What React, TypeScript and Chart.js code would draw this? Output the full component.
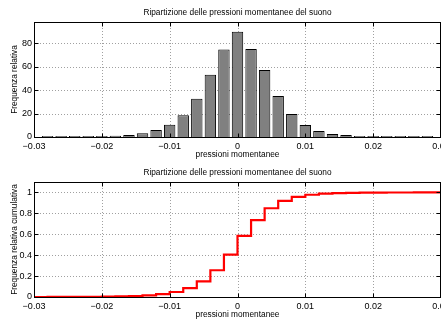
import React, { useEffect, useRef } from "react";
import { Chart, registerables } from "chart.js";

Chart.register(...registerables);

// ---- data ----
const binCenters = [
  -0.028, -0.026, -0.024, -0.022, -0.02, -0.018, -0.016, -0.014, -0.012, -0.01,
  -0.008, -0.006, -0.004, -0.002, 0, 0.002, 0.004, 0.006, 0.008, 0.01,
  0.012, 0.014, 0.016, 0.018, 0.02, 0.022, 0.024, 0.026, 0.028,
];
const relFreq = [
  0.2, 0.2, 0.3, 0.4, 0.6, 1.0, 1.7, 3.2, 6, 10.5,
  18.5, 32.5, 53, 74.6, 89.7, 75, 57, 35, 19.6, 10.2,
  5.1, 2.6, 1.6, 0.9, 0.4, 0.2, 0.2, 0.1, 0.1,
];
const cumX = [
  -0.03, -0.028, -0.026, -0.024, -0.022, -0.02, -0.018, -0.016, -0.014, -0.012, -0.01,
  -0.008, -0.006, -0.004, -0.002, 0, 0.002, 0.004, 0.006, 0.008, 0.01,
  0.012, 0.014, 0.016, 0.018, 0.02, 0.022, 0.024, 0.026, 0.028, 0.03,
];
const cumFreq = [
  0, 0.0004, 0.0008, 0.0014, 0.0022, 0.0034, 0.0054, 0.0088, 0.015, 0.027, 0.048,
  0.085, 0.15, 0.256, 0.405, 0.585, 0.735, 0.849, 0.919, 0.958, 0.978,
  0.988, 0.993, 0.996, 0.998, 0.999, 0.9994, 0.9998, 1.0, 1.0, 1.0,
];
const titleText = "Ripartizione delle pressioni momentanee del suono";
const xLabel = "pressioni momentanee";
const yLabelTop = "Frequenza relativa";
const yLabelBottom = "Frequenza relativa cumulativa";

const FONT = '"Liberation Sans", Arial, Helvetica, sans-serif';

const fmt = (v: number) => {
  const n = Number(Number(v).toFixed(3));
  const s = String(Math.abs(n));
  return n < 0 ? "\u2212" + s : s;
};

const framePlugin = {
  id: "frame",
  beforeDatasetsDraw(chart: any) {
    const { ctx, chartArea: a, scales } = chart;
    ctx.save();
    ctx.strokeStyle = "#a0a0a0";
    ctx.lineWidth = 1;
    ctx.setLineDash([1, 2]);
    scales.x.ticks.forEach((t: any) => {
      const px = Math.round(scales.x.getPixelForValue(t.value)) + 0.5;
      ctx.beginPath();
      ctx.moveTo(px, a.top);
      ctx.lineTo(px, a.bottom);
      ctx.stroke();
    });
    scales.y.ticks.forEach((t: any) => {
      const py = Math.round(scales.y.getPixelForValue(t.value)) + 0.5;
      ctx.beginPath();
      ctx.moveTo(a.left, py);
      ctx.lineTo(a.right, py);
      ctx.stroke();
    });
    ctx.restore();
  },
  afterDraw(chart: any, _args: any, opts: any) {
    const { ctx, chartArea: a, scales } = chart;
    ctx.save();
    ctx.fillStyle = "#000";
    ctx.font = `8.3px ${FONT}`;
    ctx.textAlign = "center";
    ctx.textBaseline = "middle";
    ctx.fillText(opts.title, (a.left + a.right) / 2, opts.titleY);
    ctx.strokeStyle = "#000";
    ctx.lineWidth = 1;
    const L = Math.round(a.left) + 0.5;
    const R = Math.round(a.right) - 0.5;
    const T = Math.round(a.top) + 0.5;
    const B = Math.round(a.bottom) + 0.5;
    ctx.strokeRect(L, T, R - L, B - T);
    const tl = 4;
    ctx.beginPath();
    scales.x.ticks.forEach((t: any) => {
      const px = Math.round(scales.x.getPixelForValue(t.value)) + 0.5;
      ctx.moveTo(px, B);
      ctx.lineTo(px, B - tl);
      ctx.moveTo(px, T);
      ctx.lineTo(px, T + tl);
    });
    scales.y.ticks.forEach((t: any) => {
      const py = Math.round(scales.y.getPixelForValue(t.value)) + 0.5;
      ctx.moveTo(L, py);
      ctx.lineTo(L + tl, py);
      ctx.moveTo(R, py);
      ctx.lineTo(R - tl, py);
    });
    ctx.stroke();
    ctx.restore();
  },
};

function baseOptions(yMax: number, yStep: number, yTitle: string) {
  return {
    responsive: false,
    animation: false as const,
    devicePixelRatio: 1,
    layout: { padding: { top: 22, right: 0, left: 0, bottom: 0 } },
    plugins: {
      legend: { display: false },
      tooltip: { enabled: false },
      title: { display: false },
      frame: { title: titleText, titleY: 12.5 },
    },
    scales: {
      x: {
        type: "linear" as const,
        min: -0.03,
        max: 0.03,
        offset: false,
        grid: { display: false, drawTicks: false },
        border: { display: false },
        ticks: {
          stepSize: 0.01,
          padding: 4,
          color: "#000",
          font: { family: FONT, size: 9 },
          maxRotation: 0,
          callback: (v: any) => fmt(v),
        },
        title: {
          display: true,
          text: xLabel,
          color: "#000",
          font: { family: FONT, size: 8.3 },
          padding: { top: 0, bottom: 0.5 },
        },
        afterFit: (s: any) => {
          s.height = 23;
          s.paddingLeft = 0;
          s.paddingRight = 0;
        },
      },
      y: {
        type: "linear" as const,
        min: 0,
        max: yMax,
        grid: { display: false, drawTicks: false },
        border: { display: false },
        ticks: {
          stepSize: yStep,
          includeBounds: false,
          padding: 2,
          color: "#000",
          font: { family: FONT, size: 9 },
          callback: (v: any) => fmt(v),
        },
        title: {
          display: true,
          text: yTitle,
          color: "#000",
          font: { family: FONT, size: 8.3 },
          padding: { top: 10, bottom: 0 },
        },
        afterFit: (s: any) => {
          s.width = 34;
          s.paddingTop = 0;
          s.paddingBottom = 0;
        },
      },
    },
  };
}

export default function App() {
  const topRef = useRef<HTMLCanvasElement>(null);
  const botRef = useRef<HTMLCanvasElement>(null);

  useEffect(() => {
    const c1 = new Chart(topRef.current as HTMLCanvasElement, {
      type: "bar",
      data: {
        datasets: [
          {
            data: binCenters.map((x, i) => ({ x, y: relFreq[i] })),
            backgroundColor: "#808080",
            borderColor: "#000",
            borderWidth: 1,
            minBarLength: 1,
            barPercentage: 0.84,
            categoryPercentage: 1,
          },
        ],
      },
      options: baseOptions(98, 20, yLabelTop) as any,
      plugins: [framePlugin],
    });
    const c2 = new Chart(botRef.current as HTMLCanvasElement, {
      type: "line",
      data: {
        datasets: [
          {
            data: cumX.map((x, i) => ({ x, y: cumFreq[i] })),
            borderColor: "#ff0000",
            borderWidth: 2.2,
            pointRadius: 0,
            stepped: true,
            fill: false,
          },
        ],
      },
      options: baseOptions(1.1, 0.2, yLabelBottom) as any,
      plugins: [framePlugin],
    });
    return () => {
      c1.destroy();
      c2.destroy();
    };
  }, []);

  return (
    <div style={{ position: "absolute", left: 0, top: 0, width: 441, height: 320, background: "#fff" }}>
      <canvas ref={topRef} width={441} height={160} style={{ display: "block" }} />
      <canvas ref={botRef} width={441} height={160} style={{ display: "block" }} />
    </div>
  );
}
